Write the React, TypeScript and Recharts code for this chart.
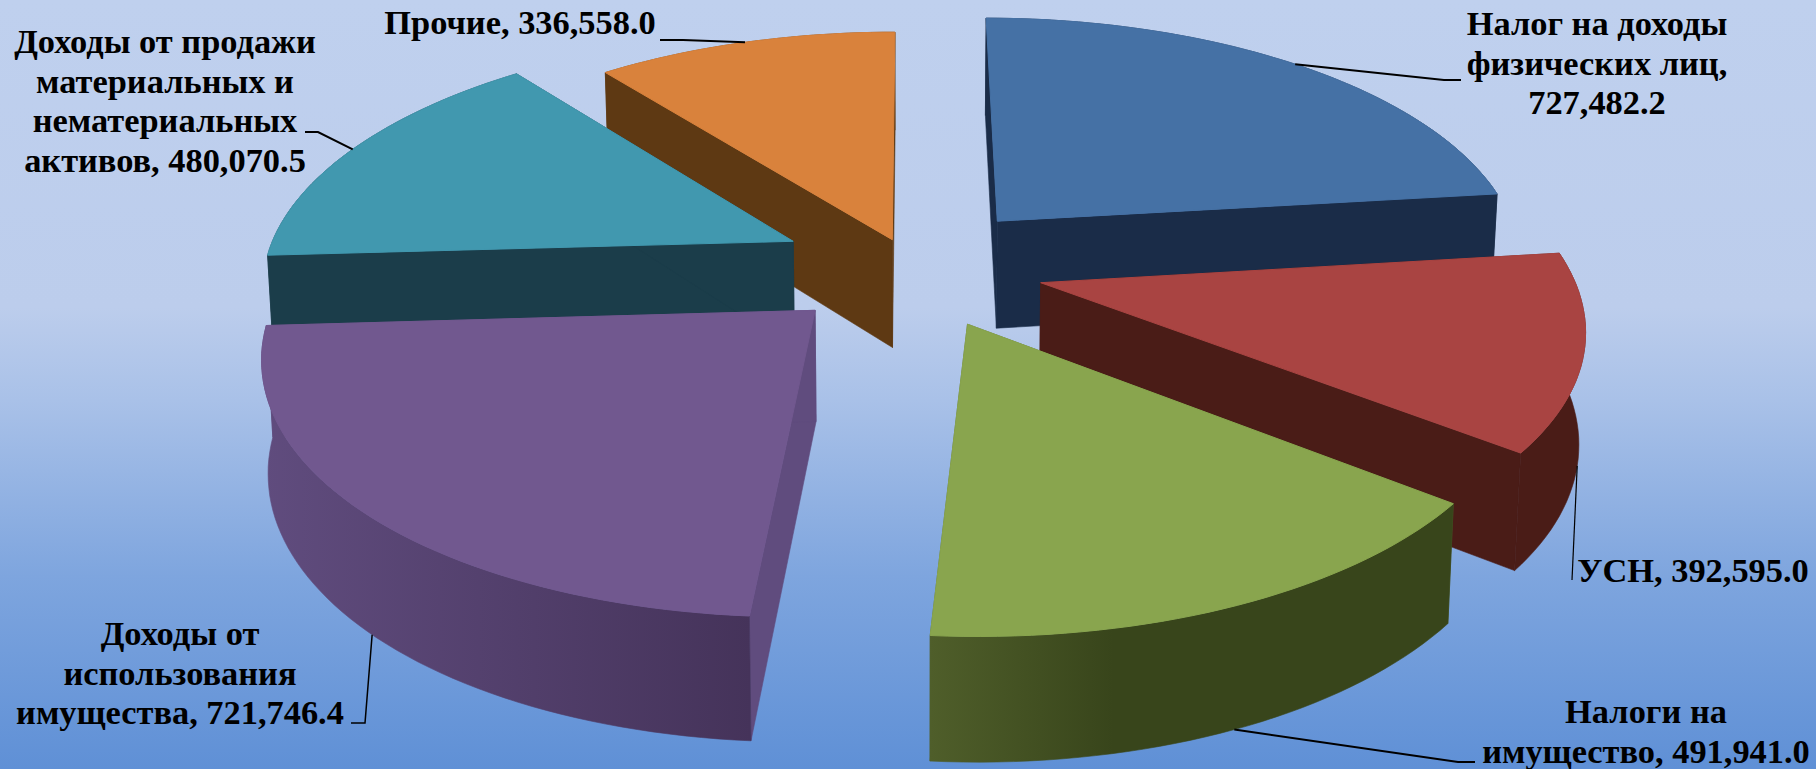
import React from "react"
import { Pie, PieChart } from "recharts"

const categories = [
  "Налог на доходы физических лиц",
  "УСН",
  "Налоги на имущество",
  "Доходы от использования имущества",
  "Доходы от продажи материальных и нематериальных активов",
  "Прочие",
]
const seriesValues = [727482.2, 392595.0, 491941.0, 721746.4, 480070.5, 336558.0]
const labelLines = [
  ["Налог на доходы", "физических лиц,", ""],
  ["УСН, "],
  ["Налоги на", "имущество, "],
  ["Доходы от", "использования", "имущества, "],
  ["Доходы от продажи", "материальных и", "нематериальных", "активов, "],
  ["Прочие, "],
]

const explode = [0.25, 0.25, 0.25, 0.25, 0.25, 0.115]
const topColors = ["#4571a5", "#a94442", "#89a54e", "#71588f", "#4198af", "#d9823c"]
const sideLeft = ["#1a2c48", "#4a1c17", "#4f5e2a", "#604c7e", "#1b3d4a", "#5e3913"]
const sideRight = ["#1a2c48", "#4a1c17", "#38451b", "#45335a", "#1b3d4a", "#5e3913"]
const sideBreak = ["100%", "100%", "35%", "100%", "100%", "100%"]
// back to front
const drawOrder = [5, 0, 4, 1, 3, 2]

// label layout: centre x, first baseline, leader elbow and end
const labelCenter = [1597, 1693, 1646, 180, 165, 520]
const labelBaseline = [35, 582, 723, 645, 53, 34]
const leaderElbow = [[1444, 80], [1572, 580], [1458, 762], [365, 723], [318, 132], [683, 40]]
const leaderEnd = [[1461, 80], [1572, 580], [1475, 762], [351, 723], [305, 132], [660, 40]]
const leaderFromBase = [false, true, true, true, false, false]
const leaderWidth = [2, 1.2, 2, 1.5, 2, 2]

const W = 1816
const H = 769
const CX = 912
const CY = 266
const RADIUS = 529
const SQUASH = 0.465
const PERSP_X = 0.155
const PERSP_Y = 0.15
const DEPTH = 109
const CONVERGE = 0.99
const RAD = Math.PI / 180

const rows = categories.map((name, i) => ({ name, value: seriesValues[i], slice: i }))

// plane point (in disk radii) to screen, top or base of the slab
function project(u: number, v: number, base: boolean) {
  const wx = 1 - PERSP_X * v
  const wy = 1 - PERSP_Y * v
  const x = CX + (RADIUS * u) / wx
  const y = CY + (RADIUS * SQUASH * v) / wy
  if (!base) return [x, y]
  return [CX + (x - CX) * CONVERGE, y + DEPTH / Math.pow(wy, 0.7)]
}

function rimPoint(slice: number, mid: number, angle: number, base: boolean) {
  const e = explode[slice]
  const u = e * Math.cos(mid * RAD) + Math.cos(angle * RAD)
  const v = -e * Math.sin(mid * RAD) - Math.sin(angle * RAD)
  return project(u, v, base)
}

function apexPoint(slice: number, mid: number, base: boolean) {
  const e = explode[slice]
  return project(e * Math.cos(mid * RAD), -e * Math.sin(mid * RAD), base)
}

const toPath = (pts: number[][]) => "M" + pts.map((p) => p[0].toFixed(1) + "," + p[1].toFixed(1)).join("L") + "Z"

function Slice3D(props: any) {
  const { slice, startAngle, endAngle, midAngle } = props
  const n = Math.max(2, Math.ceil(Math.abs(endAngle - startAngle) / 1.5))
  const top: number[][] = []
  const bottom: number[][] = []
  for (let i = 0; i <= n; i++) {
    const a = startAngle + ((endAngle - startAngle) * i) / n
    top.push(rimPoint(slice, midAngle, a, false))
    bottom.push(rimPoint(slice, midAngle, a, true))
  }
  const apexTop = apexPoint(slice, midAngle, false)
  const apexBase = apexPoint(slice, midAngle, true)
  const id = "rim" + slice
  const wall = sideLeft[slice]
  return (
    <g>
      <defs>
        <linearGradient id={id} x1="0" y1="0" x2="1" y2="0">
          <stop offset="0%" stopColor={sideLeft[slice]} />
          <stop offset={sideBreak[slice]} stopColor={sideRight[slice]} />
        </linearGradient>
      </defs>
      <path d={toPath([apexTop, top[0], bottom[0], apexBase])} fill={wall} stroke={wall} strokeWidth={0.6} />
      <path d={toPath([apexTop, top[n], bottom[n], apexBase])} fill={wall} stroke={wall} strokeWidth={0.6} />
      <path d={toPath([...top, ...[...bottom].reverse()])} fill={`url(#${id})`} stroke={`url(#${id})`} strokeWidth={0.6} />
      <path d={toPath([apexTop, ...top])} fill={topColors[slice]} stroke={topColors[slice]} strokeWidth={1} />
    </g>
  )
}

function SliceLabel(props: any) {
  const { slice, midAngle, value } = props
  const lines = labelLines[slice]
  const start = rimPoint(slice, midAngle, midAngle, leaderFromBase[slice])
  const text = value.toLocaleString("en-US", { minimumFractionDigits: 1, maximumFractionDigits: 1 })
  const elbow = leaderElbow[slice]
  const end = leaderEnd[slice]
  return (
    <g>
      <polyline
        points={`${start[0]},${start[1]} ${elbow[0]},${elbow[1]} ${end[0]},${end[1]}`}
        fill="none"
        stroke="#000"
        strokeWidth={leaderWidth[slice]}
      />
      <text
        x={labelCenter[slice]}
        y={labelBaseline[slice]}
        textAnchor="middle"
        fontFamily="'Liberation Serif'"
        fontWeight="bold"
        fontSize={34.4}
        fill="#000"
      >
        {lines.map((line, i) => (
          <tspan key={i} x={labelCenter[slice]} dy={i === 0 ? 0 : 39.5}>
            {i === lines.length - 1 ? line + text : line}
          </tspan>
        ))}
      </text>
    </g>
  )
}

export default function App() {
  return (
    <div
      style={{
        position: "absolute",
        left: 0,
        top: 0,
        width: W,
        height: H,
        background: "linear-gradient(180deg, #bfd0ee 0%, #bccdec 40%, #a9c1e8 52%, #7ea5de 75%, #5f90d6 100%)",
      }}
    >
      <PieChart width={W} height={H} margin={{ top: 0, right: 0, bottom: 0, left: 0 }}>
        {drawOrder.map((layer) => (
          <Pie
            key={layer}
            data={rows}
            dataKey="value"
            nameKey="name"
            cx={CX}
            cy={CY}
            outerRadius={RADIUS}
            startAngle={90}
            endAngle={-270}
            isAnimationActive={false}
            stroke="none"
            labelLine={false}
            shape={(p: any) => (p.slice === layer ? <Slice3D {...p} /> : <g />)}
            label={(p: any) => (p.slice === layer ? <SliceLabel {...p} /> : <g />)}
          />
        ))}
      </PieChart>
    </div>
  )
}
